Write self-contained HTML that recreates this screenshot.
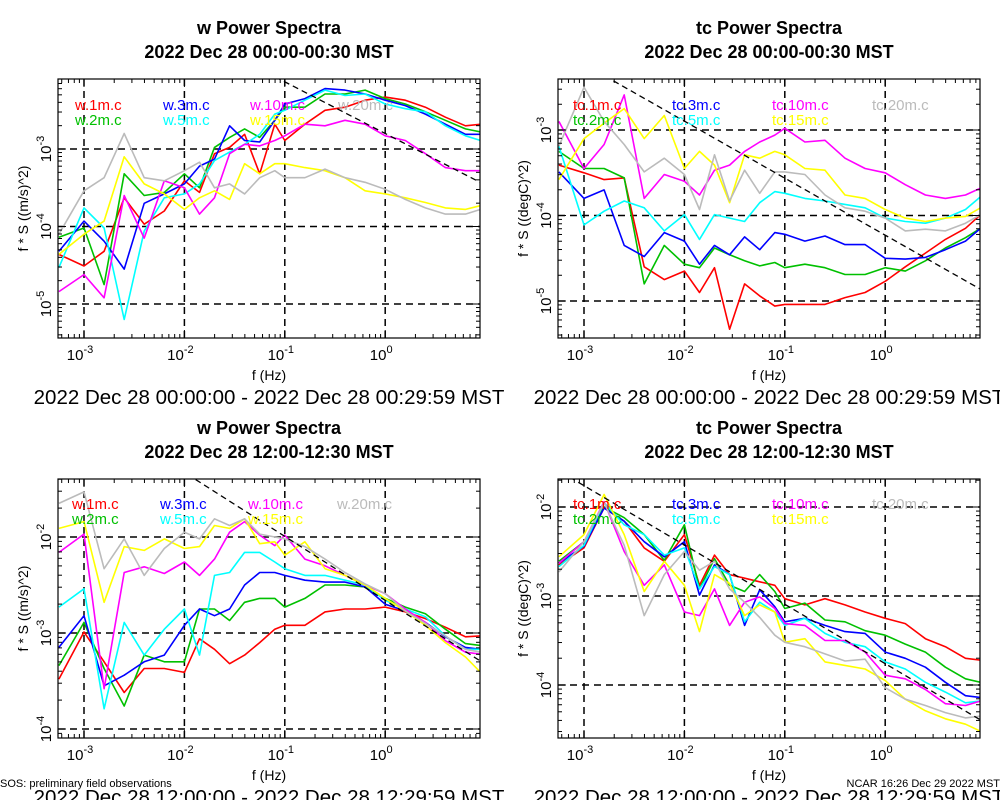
<!DOCTYPE html>
<html><head><meta charset="utf-8"><style>
html,body{margin:0;padding:0;background:#fff;}
svg{display:block;font-family:"Liberation Sans",sans-serif;}
</style></head><body>
<svg id="chart" width="1000" height="800" viewBox="0 0 1000 800" xmlns="http://www.w3.org/2000/svg">
<rect width="1000" height="800" fill="#fff"/>
<text x="0" y="787" font-size="11">SOS: preliminary field observations</text>
<text x="1000" y="787" font-size="11" text-anchor="end">NCAR 16:26 Dec 29 2022 MST</text>
</svg>
<script>
// log10 frequency (Hz) shared by all series
const logF = [-3.25,-3.0,-2.8,-2.6,-2.4,-2.2,-2.0,-1.85,-1.7,-1.55,-1.4,-1.25,-1.1,-1.0,-0.8,-0.6,-0.4,-0.2,0,0.2,0.4,0.6,0.8,0.95];
const seriesColors = ['#ff0000','#00c000','#0000ff','#00ffff','#ff00ff','#ffff00','#bbbbbb'];
const wNames = ['w.1m.c','w.2m.c','w.3m.c','w.5m.c','w.10m.c','w.15m.c','w.20m.c'];
const tcNames = ['tc.1m.c','tc.2m.c','tc.3m.c','tc.5m.c','tc.10m.c','tc.15m.c','tc.20m.c'];
// Panel 1: w 00:00 (log10 of f*S)
const w0_1m = [-4.36,-4.51,-4.32,-3.63,-3.97,-3.80,-3.41,-3.56,-3.06,-2.98,-2.81,-3.32,-2.68,-2.89,-2.68,-2.50,-2.46,-2.37,-2.33,-2.37,-2.46,-2.59,-2.70,-2.68];
const w0_2m = [-4.14,-4.02,-4.75,-3.32,-3.60,-3.56,-3.32,-3.50,-2.98,-2.85,-2.74,-2.85,-2.63,-2.46,-2.46,-2.29,-2.29,-2.24,-2.35,-2.42,-2.52,-2.63,-2.74,-2.78];
const w0_3m = [-4.32,-3.93,-4.19,-4.55,-3.70,-3.58,-3.45,-3.22,-3.13,-2.70,-2.89,-2.91,-2.63,-2.42,-2.35,-2.22,-2.24,-2.29,-2.37,-2.44,-2.55,-2.68,-2.81,-2.81];
const w0_5m = [-4.53,-3.76,-4.02,-5.20,-4.06,-3.63,-3.58,-3.45,-3.15,-3.04,-2.94,-2.81,-2.55,-2.50,-2.37,-2.24,-2.31,-2.29,-2.42,-2.48,-2.52,-2.70,-2.83,-2.89];
const w0_10m = [-4.84,-4.62,-4.92,-3.60,-4.15,-3.41,-3.50,-3.84,-3.63,-3.06,-2.94,-2.96,-2.89,-2.83,-2.68,-2.70,-2.63,-2.68,-2.83,-2.89,-3.06,-3.24,-3.28,-3.28];
const w0_15m = [-4.36,-4.10,-3.93,-3.10,-3.45,-3.58,-3.78,-3.63,-3.54,-3.65,-3.19,-3.32,-3.19,-3.19,-3.24,-3.28,-3.37,-3.54,-3.58,-3.63,-3.69,-3.76,-3.78,-3.73];
const w0_20m = [-4.10,-3.54,-3.37,-2.80,-3.37,-3.41,-3.28,-3.17,-3.50,-3.45,-3.58,-3.37,-3.28,-3.37,-3.37,-3.26,-3.37,-3.43,-3.52,-3.65,-3.76,-3.84,-3.84,-3.78];
// Panel 2: tc 00:00
const t0_1m = [-3.41,-3.50,-3.58,-3.56,-4.60,-4.75,-4.65,-4.90,-4.61,-5.33,-4.80,-4.94,-5.06,-5.04,-5.04,-5.04,-4.96,-4.90,-4.77,-4.60,-4.44,-4.28,-4.15,-3.99];
const t0_2m = [-3.25,-3.45,-3.45,-3.56,-4.80,-4.35,-4.57,-4.61,-4.38,-4.46,-4.53,-4.59,-4.55,-4.61,-4.57,-4.61,-4.69,-4.69,-4.61,-4.65,-4.53,-4.38,-4.26,-4.15];
const t0_3m = [-3.49,-3.80,-3.70,-4.35,-4.48,-4.20,-4.30,-4.57,-4.35,-4.46,-4.25,-4.40,-4.20,-4.22,-4.30,-4.24,-4.34,-4.34,-4.50,-4.51,-4.49,-4.40,-4.30,-4.15];
const t0_5m = [-3.19,-4.11,-3.95,-3.83,-3.91,-4.18,-3.99,-4.28,-3.99,-4.03,-4.07,-3.85,-3.72,-3.74,-3.80,-3.83,-3.87,-3.91,-4.03,-4.07,-4.09,-4.03,-3.93,-3.78];
const t0_10m = [-2.90,-3.45,-3.17,-2.59,-3.80,-3.52,-3.60,-3.76,-3.47,-3.41,-3.25,-3.14,-3.06,-2.98,-3.14,-3.12,-3.33,-3.45,-3.50,-3.64,-3.76,-3.80,-3.76,-3.68];
const t0_15m = [-3.58,-3.10,-2.92,-2.75,-3.10,-2.83,-3.45,-3.25,-3.41,-3.85,-3.29,-3.33,-3.25,-3.29,-3.45,-3.47,-3.76,-3.80,-3.93,-4.03,-4.07,-4.03,-4.01,-3.91];
const t0_20m = [-3.19,-2.50,-2.90,-3.17,-3.49,-3.33,-3.52,-3.93,-3.29,-3.83,-3.47,-3.74,-3.49,-3.49,-3.52,-3.76,-3.91,-3.95,-4.03,-4.18,-4.16,-4.18,-4.09,-3.99];
// Panel 3: w 12:00
const w12_1m = [-3.48,-2.99,-3.30,-3.62,-3.37,-3.37,-3.41,-3.06,-3.17,-3.32,-3.23,-3.10,-2.96,-2.92,-2.92,-2.78,-2.75,-2.75,-2.73,-2.78,-2.85,-2.94,-3.04,-3.03];
const w12_2m = [-3.34,-2.89,-3.37,-3.76,-3.23,-3.30,-3.30,-2.75,-2.75,-2.87,-2.68,-2.64,-2.64,-2.73,-2.64,-2.50,-2.50,-2.52,-2.64,-2.73,-2.80,-2.96,-3.11,-3.13];
const w12_3m = [-3.15,-2.82,-3.55,-3.44,-3.30,-3.23,-2.92,-2.75,-2.82,-2.75,-2.50,-2.37,-2.37,-2.40,-2.45,-2.47,-2.47,-2.52,-2.70,-2.77,-2.89,-3.04,-3.15,-3.17];
const w12_5m = [-2.73,-2.54,-3.79,-2.89,-3.23,-2.96,-2.75,-3.23,-2.40,-2.37,-2.16,-2.16,-2.26,-2.33,-2.40,-2.40,-2.45,-2.50,-2.66,-2.75,-2.83,-3.03,-3.17,-3.17];
const w12_10m = [-2.16,-1.97,-3.58,-2.37,-2.31,-2.38,-2.26,-2.40,-2.23,-1.95,-1.84,-1.98,-2.09,-1.98,-2.23,-2.30,-2.40,-2.50,-2.59,-2.75,-2.89,-3.08,-3.20,-3.22];
const w12_15m = [-1.91,-1.84,-2.68,-2.10,-2.14,-2.02,-2.12,-2.10,-1.88,-1.91,-1.81,-2.07,-2.05,-2.19,-2.05,-2.33,-2.40,-2.50,-2.64,-2.77,-2.92,-3.10,-3.25,-3.41];
const w12_20m = [-1.65,-1.53,-2.33,-2.02,-2.40,-2.12,-1.95,-2.02,-1.81,-1.88,-1.81,-1.97,-2.00,-2.02,-2.10,-2.23,-2.37,-2.49,-2.59,-2.77,-2.90,-3.03,-3.17,-3.20];
// Panel 4: tc 12:00
const t12_1m = [-2.65,-2.46,-2.01,-2.16,-2.46,-2.61,-2.31,-2.88,-2.54,-2.76,-2.80,-2.84,-2.88,-3.03,-3.10,-3.03,-3.10,-3.18,-3.25,-3.31,-3.48,-3.57,-3.70,-3.72];
const t12_2m = [-2.61,-2.39,-2.00,-2.12,-2.31,-2.60,-2.20,-2.92,-2.58,-2.88,-2.95,-2.76,-2.95,-3.14,-3.08,-3.27,-3.29,-3.39,-3.44,-3.54,-3.63,-3.80,-3.93,-3.97];
const t12_3m = [-2.63,-2.44,-2.01,-2.16,-2.39,-2.56,-2.39,-2.99,-2.65,-2.76,-3.33,-2.93,-3.12,-3.29,-3.25,-3.33,-3.40,-3.42,-3.63,-3.70,-3.80,-3.97,-4.12,-4.14];
const t12_5m = [-2.67,-2.43,-1.95,-2.20,-2.31,-2.54,-2.46,-2.92,-2.67,-2.76,-3.29,-3.07,-3.18,-3.33,-3.25,-3.42,-3.52,-3.57,-3.74,-3.82,-3.97,-4.08,-4.20,-4.18];
const t12_10m = [-2.63,-2.39,-1.94,-2.50,-2.88,-2.65,-3.18,-3.22,-2.92,-3.33,-3.07,-3.01,-3.14,-3.31,-3.33,-3.50,-3.50,-3.63,-3.89,-3.93,-4.05,-4.21,-4.23,-4.18];
const t12_15m = [-2.56,-2.31,-1.86,-2.31,-2.95,-2.61,-2.88,-3.40,-2.76,-2.86,-3.22,-3.10,-3.18,-3.52,-3.48,-3.74,-3.78,-3.82,-3.95,-4.16,-4.29,-4.38,-4.44,-4.52];
const t12_20m = [-2.73,-2.39,-1.95,-2.43,-3.22,-2.76,-2.50,-2.71,-2.61,-2.92,-3.07,-3.24,-3.44,-3.52,-3.57,-3.65,-3.73,-3.71,-4.03,-4.16,-4.23,-4.31,-4.37,-4.35];
// -2/3 reference line intercepts (log10 value at f=1 Hz)
const refIntercepts = [-2.80,-4.23,-2.66,-3.76];

const NS='http://www.w3.org/2000/svg';
const svg=document.getElementById('chart');
function mk(tag,attrs,parent){const e=document.createElementNS(NS,tag);for(const k in attrs)e.setAttribute(k,attrs[k]);(parent||svg).appendChild(e);return e;}

const panels=[
 {id:'w-00',title:'w Power Spectra',sub:'2022 Dec 28 00:00-00:30 MST',range:'2022 Dec 28 00:00:00 - 2022 Dec 28 00:29:59 MST',ylab:'f * S ((m/s)^2)',names:wNames,data:[w0_1m,w0_2m,w0_3m,w0_5m,w0_10m,w0_15m,w0_20m],
  L:58,R:480,T:79,B:338,xa:84,ya:-3,yAt:149,yPer:77.5,dec:[-3,-4,-5],ty:0,leg:[75,163,250,338]},
 {id:'tc-00',title:'tc Power Spectra',sub:'2022 Dec 28 00:00-00:30 MST',range:'2022 Dec 28 00:00:00 - 2022 Dec 28 00:29:59 MST',ylab:'f * S ((degC)^2)',names:tcNames,data:[t0_1m,t0_2m,t0_3m,t0_5m,t0_10m,t0_15m,t0_20m],
  L:558,R:980,T:79,B:338,xa:584,ya:-3,yAt:130,yPer:85.5,dec:[-3,-4,-5],ty:0,leg:[573,672,772,872]},
 {id:'w-12',title:'w Power Spectra',sub:'2022 Dec 28 12:00-12:30 MST',range:'2022 Dec 28 12:00:00 - 2022 Dec 28 12:29:59 MST',ylab:'f * S ((m/s)^2)',names:wNames,data:[w12_1m,w12_2m,w12_3m,w12_5m,w12_10m,w12_15m,w12_20m],
  L:58,R:480,T:479,B:738,xa:84,ya:-2,yAt:537,yPer:96,dec:[-2,-3,-4],ty:400,leg:[72,160,248,337]},
 {id:'tc-12',title:'tc Power Spectra',sub:'2022 Dec 28 12:00-12:30 MST',range:'2022 Dec 28 12:00:00 - 2022 Dec 28 12:29:59 MST',ylab:'f * S ((degC)^2)',names:tcNames,data:[t12_1m,t12_2m,t12_3m,t12_5m,t12_10m,t12_15m,t12_20m],
  L:558,R:980,T:479,B:738,xa:584,ya:-2,yAt:507,yPer:89,dec:[-2,-3,-4],ty:400,leg:[573,672,772,872]}
];
const XPER=100.4;

panels.forEach((p,pi)=>{
 const g=mk('g',{});
 
 
 const xs=lf=>p.xa+(lf+3)*XPER;
 const ys=lv=>p.yAt-(lv-p.ya)*p.yPer;
 const cx=(p.L+p.R)/2;
 const t1=mk('text',{x:cx,y:p.ty+34,'font-size':18,'font-weight':'bold','text-anchor':'middle'},g);t1.textContent=p.title;
 
 
 const t2=mk('text',{x:cx,y:p.ty+58,'font-size':18,'font-weight':'bold','text-anchor':'middle'},g);t2.textContent=p.sub;
 
 
 const clipId='clip'+pi;
 const cp=mk('clipPath',{id:clipId},g);mk('rect',{x:p.L,y:p.T,width:p.R-p.L,height:p.B-p.T},cp);
 for(let d=-3;d<=0;d++){const l=mk('line',{x1:xs(d),x2:xs(d),y1:p.T,y2:p.B,stroke:'#000','stroke-width':1.5,'stroke-dasharray':'7,5'},g);
  
  }
 p.dec.forEach(d=>{const l=mk('line',{x1:p.L,x2:p.R,y1:ys(d),y2:ys(d),stroke:'#000','stroke-width':1.5,'stroke-dasharray':'7,5'},g);
  
  });
 const sg=mk('g',{'clip-path':'url(#'+clipId+')'},g);
 p.data.forEach((arr,si)=>{
  const pts=arr.map((v,i)=>xs(logF[i]).toFixed(1)+','+ys(v).toFixed(1)).join(' ');
  const pl=mk('polyline',{points:pts,fill:'none',stroke:seriesColors[si],'stroke-width':1.6,'stroke-linejoin':'round'},sg);
  
  
 });
 const a=refIntercepts[pi];
 const rl=mk('line',{x1:xs(-3.4),y1:ys(a+2/3*3.4),x2:xs(1.0),y2:ys(a-2/3*1.0),stroke:'#000','stroke-width':1.3,'stroke-dasharray':'6,4'},sg);
 
 
 p.names.forEach((n,si)=>{
  const col=Math.floor(si/2), row=si%2;
  const lt=mk('text',{x:p.leg[col],y:p.ty+110+row*15+(pi>=2?-1:0),'font-size':15,fill:seriesColors[si]},g);lt.textContent=n;
  
  
 });
 const fr=mk('rect',{x:p.L,y:p.T,width:p.R-p.L,height:p.B-p.T,fill:'none',stroke:'#000','stroke-width':1.2},g);
 
 
 for(let d=-4;d<=0;d++){for(let k=1;k<10;k++){const lf=d+Math.log10(k);const x=xs(lf);if(x<p.L||x>p.R)continue;const len=k===1?8:4;
  mk('line',{x1:x,x2:x,y1:p.B,y2:p.B-len,stroke:'#000','stroke-width':1},g);mk('line',{x1:x,x2:x,y1:p.T,y2:p.T+len,stroke:'#000','stroke-width':1},g);}}
 for(let d=-3;d<=0;d++){const t=mk('text',{x:xs(d)-4,y:p.B+22,'font-size':15,'text-anchor':'middle'},g);
  
  
  const a1=mk('tspan',{},t);a1.textContent='10';const a2=mk('tspan',{dy:-7,'font-size':11},t);a2.textContent=String(d);}
 for(let d=p.ya+1;d>=p.ya-4;d--){for(let k=1;k<10;k++){const lv=d+Math.log10(k);const y=ys(lv);if(y<p.T||y>p.B)continue;const len=k===1?8:4;
  mk('line',{x1:p.L,x2:p.L+len,y1:y,y2:y,stroke:'#000','stroke-width':1},g);mk('line',{x1:p.R,x2:p.R-len,y1:y,y2:y,stroke:'#000','stroke-width':1},g);}}
 p.dec.forEach(d=>{const y=ys(d);const t=mk('text',{x:p.L-7,y:y,'font-size':15,'text-anchor':'middle',transform:'rotate(-90 '+(p.L-7)+' '+y+')'},g);
  
  
  const a1=mk('tspan',{},t);a1.textContent='10';const a2=mk('tspan',{dy:-7,'font-size':11},t);a2.textContent=String(d);});
 const xl=mk('text',{x:cx,y:p.B+42,'font-size':14,'text-anchor':'middle'},g);xl.textContent='f (Hz)';
 
 
 const ym=(p.T+p.B)/2;const yx=p.L-30;
 const yl=mk('text',{x:yx,y:ym,'font-size':14,'text-anchor':'middle',transform:'rotate(-90 '+yx+' '+ym+')'},g);yl.textContent=p.ylab;
 
 
 const rt=mk('text',{x:cx,y:p.B+66,'font-size':20.5,'text-anchor':'middle'},g);rt.textContent=p.range;
 
 
});
</script>
</body></html>
